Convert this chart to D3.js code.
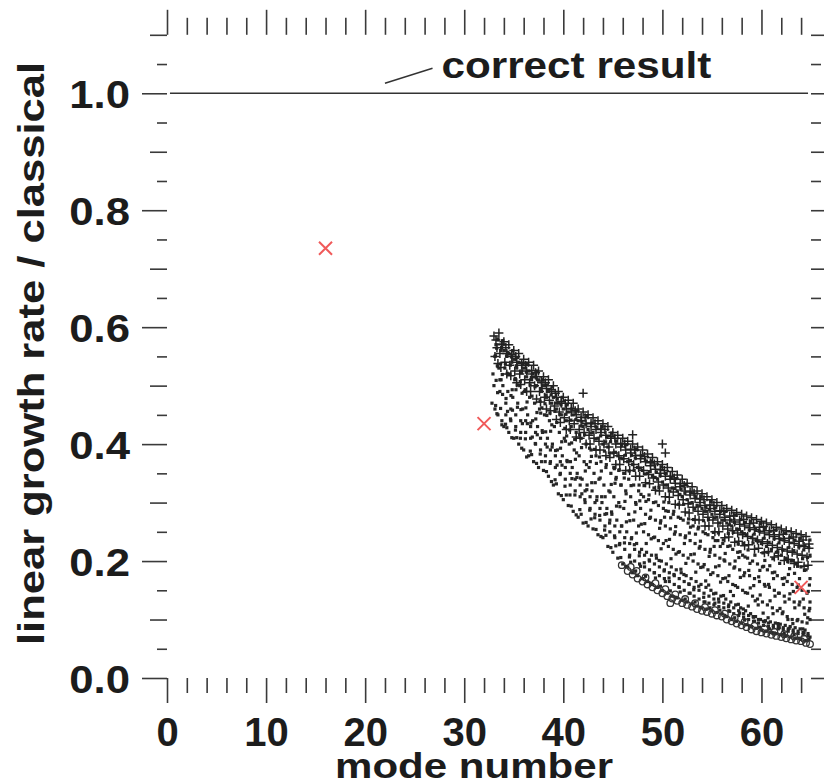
<!DOCTYPE html>
<html><head><meta charset="utf-8">
<script src="https://cdn.jsdelivr.net/npm/d3@7"></script>
<style>body{margin:0;background:#fff}svg{display:block}</style>
</head><body><svg id="c" width="824" height="783"></svg>
<script>
// ---- data ----
const xMajor=[0,10,20,30,40,50,60];
const xMinor=[2,4,6,8,12,14,16,18,22,24,26,28,32,34,36,38,42,44,46,48,52,54,56,58,62,64];
const yMajor=[0,0.2,0.4,0.6,0.8,1.0];
const yMid=[0.1,0.3,0.5,0.7,0.9,1.1];
const yMinor=[0.05,0.15,0.25,0.35,0.45,0.55,0.65,0.75,0.85,0.95,1.05];
const xTickLabels=["0","10","20","30","40","50","60"];
const yTickLabels=["0.0","0.2","0.4","0.6","0.8","1.0"];
const correctValue=1.0;
const annotationText="correct result";
const xTitle="mode number";
const yTitle="linear growth rate / classical";
const redX=[[16,0.735],[32,0.435],[64,0.155]];
const plusPts=[
[33.0,.585],[33.3,.565],[33.1,.55],[33.5,.59],[33.8,.57],[33.6,.555],[34.0,.575],[34.3,.555],[34.1,.54],
[34.5,.57],[34.8,.55],[34.6,.535],[35.0,.56],[35.3,.54],[35.1,.525],[35.5,.555],[35.8,.535],[35.6,.52],
[36.0,.545],[36.3,.525],[36.1,.51],[36.5,.54],[36.8,.52],[36.6,.505],[37.0,.535],[37.3,.515],[37.1,.50],
[37.5,.525],[37.8,.505],[37.6,.49],[38.0,.515],[38.3,.495],[38.1,.48],[38.5,.51],[38.8,.49],[38.6,.475],
[39.0,.50],[39.3,.48],[39.1,.465],[39.5,.49],[39.8,.47],[39.6,.455],[40.0,.48],[40.3,.46],[40.1,.445],
[40.5,.475],[40.8,.455],[40.6,.44],[41.0,.47],[41.3,.45],[41.1,.435],[41.5,.46],[41.8,.44],[41.6,.425],
[42.0,.455],[42.3,.435],[42.1,.42],[42.5,.45],[42.8,.43],[42.6,.415],[43.0,.445],[43.3,.425],[43.1,.41],
[43.5,.44],[43.8,.42],[43.6,.405],[44.0,.435],[44.3,.415],[44.1,.40],[44.5,.43],[44.8,.41],[44.6,.395],
[45.0,.42],[45.3,.40],[45.1,.385],[45.5,.415],[45.8,.395],[45.6,.38],[46.0,.41],[46.3,.39],[46.1,.375],
[46.5,.405],[46.8,.385],[46.6,.37],[47.0,.40],[47.3,.38],[47.1,.365],[47.5,.395],[47.8,.375],[47.6,.36],
[48.0,.39],[48.3,.37],[48.1,.355],[48.5,.383],[48.8,.363],[48.6,.348],[49.0,.377],[49.3,.357],[49.1,.342],
[49.5,.37],[49.8,.35],[49.6,.335],[50.0,.365],[50.3,.345],[50.1,.33],[50.5,.36],[50.8,.34],[50.6,.325],
[51.0,.353],[51.3,.333],[51.1,.318],[51.5,.347],[51.8,.327],[51.6,.312],[52.0,.34],[52.3,.32],[52.1,.305],
[52.5,.333],[52.8,.313],[52.6,.298],[53.0,.327],[53.3,.307],[53.1,.292],[53.5,.32],[53.8,.30],[53.6,.285],
[54.0,.315],[54.3,.295],[54.1,.28],[54.5,.31],[54.8,.29],[54.6,.275],[55.0,.305],[55.3,.285],[55.1,.27],
[55.5,.30],[55.8,.28],[55.6,.265],[56.0,.295],[56.3,.275],[56.1,.26],[56.5,.29],[56.8,.27],[56.6,.255],
[57.0,.287],[57.3,.267],[57.1,.252],[57.5,.283],[57.8,.263],[57.6,.248],[58.0,.28],[58.3,.26],[58.1,.245],
[58.5,.277],[58.8,.257],[58.6,.242],[59.0,.274],[59.3,.254],[59.1,.239],[59.5,.271],[59.8,.251],[59.6,.236],
[60.0,.268],[60.3,.248],[60.1,.233],[60.5,.265],[60.8,.245],[60.6,.23],[61.0,.262],[61.3,.242],[61.1,.227],
[61.5,.258],[61.8,.238],[61.6,.223],[62.0,.255],[62.3,.235],[62.1,.22],[62.5,.252],[62.8,.232],[62.6,.217],
[63.0,.25],[63.3,.23],[63.1,.215],[63.5,.247],[63.8,.227],[63.6,.212],[64.0,.245],[64.3,.225],[64.1,.21],
[64.5,.242],[64.8,.222],[64.6,.207],
[42.0,.487],[47.0,.416],[50.0,.40],[50.3,.385]
];
const plusPtsB=[
[33.2,.578],[33.4,.538],[33.8,.571],[33.7,.531],[34.2,.565],[34.3,.52],[34.8,.553],[34.7,.517],
[35.2,.55],[35.3,.505],[35.8,.538],[35.7,.502],[36.2,.535],[36.3,.49],[36.8,.526],[36.7,.49],
[37.2,.522],[37.3,.477],[37.8,.508],[37.7,.472],[38.2,.505],[38.3,.46],[38.8,.493],[38.7,.457],
[39.2,.487],[39.3,.442],[39.8,.473],[39.7,.437],[40.2,.47],[40.3,.425],[40.8,.461],[40.7,.425],
[41.2,.457],[41.3,.412],[41.8,.446],[41.7,.41],[42.2,.445],[42.3,.40],[42.8,.436],[42.7,.40],
[43.2,.435],[43.3,.39],[43.8,.426],[43.7,.39],[44.2,.425],[44.3,.38],[44.8,.413],[44.7,.377],
[45.2,.41],[45.3,.365],[45.8,.401],[45.7,.365],[46.2,.40],[46.3,.355],[46.8,.391],[46.7,.355],
[47.2,.39],[47.3,.345],[47.8,.381],[47.7,.345],[48.2,.379],[48.3,.334],[48.8,.368],[48.7,.332],
[49.2,.366],[49.3,.321],[49.8,.356],[49.7,.32],[50.2,.355],[50.3,.31],[50.8,.345],[50.7,.309],
[51.2,.342],[51.3,.297],[51.8,.332],[51.7,.296],[52.2,.329],[52.3,.284],[52.8,.318],[52.7,.282],
[53.2,.316],[53.3,.271],[53.8,.306],[53.7,.27],[54.2,.305],[54.3,.26],[54.8,.296],[54.7,.26],
[55.2,.295],[55.3,.25],[55.8,.286],[55.7,.25],[56.2,.285],[56.3,.24],[56.8,.277],[56.7,.241],
[57.2,.277],[57.3,.232],[57.8,.27],[57.7,.234],[58.2,.271],[58.3,.226],[58.8,.264],[58.7,.228],
[59.2,.265],[59.3,.22],[59.8,.258],[59.7,.222],[60.2,.259],[60.3,.214],[60.8,.252],[60.7,.216],
[61.2,.252],[61.3,.207],[61.8,.245],[61.7,.209],[62.2,.246],[62.3,.201],[62.8,.239],[62.7,.203],
[63.2,.241],[63.3,.196],[63.8,.234],[63.7,.198],[64.2,.236],[64.3,.191],[64.8,.229],[64.7,.193]
];
const circlePts=[
[45.9,.193],[46.5,.183],[46.8,.19],[47.0,.177],[47.4,.183],[47.5,.17],[48.0,.165],[48.3,.172],[48.5,.16],
[49.0,.155],[49.3,.162],[49.5,.15],[50.0,.145],[50.3,.152],[50.5,.14],[50.8,.128],[51.0,.136],[51.3,.143],
[51.5,.132],[52.0,.128],[52.3,.135],[52.5,.125],[53.0,.122],[53.3,.128],[53.5,.118],[54.0,.115],[54.3,.121],
[54.5,.113],[55.0,.11],[55.3,.116],[55.5,.107],[56.0,.105],[56.3,.11],[56.5,.10],[57.0,.097],[57.3,.103],
[57.5,.093],[58.0,.09],[58.3,.096],[58.5,.087],[59.0,.083],[59.3,.089],[59.5,.08],[60.0,.078],[60.3,.084],
[60.5,.076],[61.0,.074],[61.3,.079],[61.5,.072],[62.0,.07],[62.3,.075],[62.5,.068],[63.0,.066],[63.3,.071],
[63.5,.064],[64.0,.063],[64.3,.067],[64.5,.06],[64.9,.058]
];
const dotPts=[
[32.8,.47],[32.9,.52],[33.1,.55],[33.0,.50],[33.2,.57],[33.1,.46],
[33.4,.45],[33.6,.49],[33.5,.53],[33.7,.56],[33.4,.58],[33.6,.51],[33.8,.44],
[34.0,.43],[34.2,.47],[33.9,.50],[34.1,.53],[34.3,.55],[34.0,.56],[34.2,.45],
[34.5,.42],[34.7,.46],[34.4,.49],[34.6,.52],[34.8,.54],[34.5,.555],[34.7,.44],
[35.0,.41],[35.2,.45],[34.9,.48],[35.1,.51],[35.3,.53],[35.0,.545],[35.2,.43],
[35.5,.40],[35.7,.44],[35.4,.47],[35.6,.50],[35.8,.525],[35.5,.54],[35.7,.42],
[36.0,.39],[36.2,.42],[35.9,.46],[36.1,.49],[36.3,.515],[36.0,.53],[36.2,.44],
[36.5,.38],[36.7,.41],[36.4,.45],[36.6,.48],[36.8,.51],[36.5,.525],[36.7,.43],
[37.0,.37],[37.2,.40],[36.9,.44],[37.1,.47],[37.3,.50],[37.0,.515],[37.2,.42],
[37.5,.36],[37.7,.39],[37.4,.43],[37.6,.46],[37.8,.49],[37.5,.51],[37.7,.41],
[38.0,.355],[38.2,.38],[37.9,.42],[38.1,.45],[38.3,.48],[38.0,.50],[38.2,.40],
[38.5,.345],[38.7,.37],[38.4,.41],[38.6,.44],[38.8,.47],[38.5,.49],[38.7,.39],
[39.0,.33],[39.2,.36],[38.9,.40],[39.1,.43],[39.3,.46],[39.0,.48],[39.2,.38],
[39.5,.315],[39.7,.35],[39.4,.39],[39.6,.42],[39.8,.45],[39.5,.47],[39.7,.37],
[40.0,.305],[40.2,.34],[39.9,.38],[40.1,.41],[40.3,.44],[40.0,.46],[40.2,.36],
[40.5,.295],[40.7,.33],[40.4,.37],[40.6,.40],[40.8,.43],[40.5,.455],[40.7,.35],
[41.0,.285],[41.2,.32],[40.9,.36],[41.1,.39],[41.3,.42],[41.0,.45],[41.2,.34],
[41.5,.275],[41.7,.31],[41.4,.35],[41.6,.38],[41.8,.41],[41.5,.44],[41.7,.33],
[42.0,.265],[42.2,.30],[41.9,.34],[42.1,.37],[42.3,.40],[42.0,.43],[42.2,.32],
[42.5,.26],[42.7,.29],[42.4,.33],[42.6,.36],[42.8,.39],[42.5,.425],[42.7,.31],
[43.0,.255],[43.2,.28],[42.9,.32],[43.1,.35],[43.3,.38],[43.0,.42],[43.2,.30],
[43.5,.245],[43.7,.27],[43.4,.31],[43.6,.34],[43.8,.37],[43.5,.41],[43.7,.29],
[44.0,.24],[44.2,.26],[43.9,.30],[44.1,.33],[44.3,.36],[44.0,.40],[44.2,.28],
[44.5,.225],[44.7,.25],[44.4,.29],[44.6,.32],[44.8,.35],[44.5,.395],[44.7,.27],
[45.0,.215],[45.2,.24],[44.9,.28],[45.1,.31],[45.3,.34],[45.0,.385],[45.2,.26],[45.1,.36],
[45.5,.205],[45.7,.23],[45.4,.27],[45.6,.30],[45.8,.33],[45.5,.38],[45.7,.25],[45.6,.355],
[46.0,.195],[46.2,.22],[45.9,.26],[46.1,.29],[46.3,.32],[46.0,.375],[46.2,.24],[46.1,.35],
[46.5,.19],[46.7,.21],[46.4,.25],[46.6,.28],[46.8,.31],[46.5,.37],[46.7,.23],[46.6,.34],
[47.0,.18],[47.2,.20],[46.9,.24],[47.1,.27],[47.3,.30],[47.0,.365],[47.2,.22],[47.1,.33],
[47.5,.175],[47.7,.195],[47.4,.23],[47.6,.26],[47.8,.29],[47.5,.36],[47.7,.215],[47.6,.32],
[48.0,.17],[48.2,.19],[47.9,.22],[48.1,.25],[48.3,.28],[48.0,.355],[48.2,.21],[48.1,.31],
[48.5,.165],[48.7,.185],[48.4,.215],[48.6,.245],[48.8,.275],[48.5,.35],[48.7,.20],[48.6,.305],
[49.0,.16],[49.2,.18],[48.9,.21],[49.1,.24],[49.3,.27],[49.0,.345],[49.2,.195],[49.1,.30],
[49.5,.155],[49.7,.175],[49.4,.205],[49.6,.235],[49.8,.265],[49.5,.34],[49.7,.19],[49.6,.295],
[50.0,.15],[50.2,.17],[49.9,.20],[50.1,.23],[50.3,.26],[50.0,.335],[50.2,.185],[50.1,.29],
[50.5,.145],[50.7,.165],[50.4,.195],[50.6,.225],[50.8,.255],[50.5,.33],[50.7,.18],[50.6,.285],
[51.0,.14],[51.2,.16],[50.9,.19],[51.1,.22],[51.3,.25],[51.0,.325],[51.2,.175],[51.1,.28],
[51.5,.137],[51.7,.155],[51.4,.185],[51.6,.215],[51.8,.245],[51.5,.32],[51.7,.17],[51.6,.275],
[52.0,.133],[52.2,.15],[51.9,.18],[52.1,.21],[52.3,.24],[52.0,.31],[52.2,.165],[52.1,.27],
[52.5,.13],[52.7,.145],[52.4,.175],[52.6,.205],[52.8,.235],[52.5,.305],[52.7,.16],[52.6,.265],
[53.0,.127],[53.2,.14],[52.9,.17],[53.1,.20],[53.3,.23],[53.0,.30],[53.2,.155],[53.1,.26],
[53.5,.123],[53.7,.135],[53.4,.165],[53.6,.195],[53.8,.225],[53.5,.295],[53.7,.15],[53.6,.255],
[54.0,.12],[54.2,.13],[53.9,.16],[54.1,.19],[54.3,.22],[54.0,.29],[54.2,.145],[54.1,.25],
[54.5,.118],[54.7,.128],[54.4,.155],[54.6,.185],[54.8,.215],[54.5,.285],[54.7,.14],[54.6,.245],
[55.0,.115],[55.2,.125],[54.9,.15],[55.1,.18],[55.3,.21],[55.0,.28],[55.2,.135],[55.1,.24],
[55.5,.112],[55.7,.122],[55.4,.145],[55.6,.175],[55.8,.205],[55.5,.275],[55.7,.13],[55.6,.235],
[56.0,.11],[56.2,.12],[55.9,.14],[56.1,.17],[56.3,.20],[56.0,.27],[56.2,.128],[56.1,.23],
[56.5,.105],[56.7,.115],[56.4,.135],[56.6,.165],[56.8,.195],[56.5,.265],[56.7,.125],[56.6,.225],
[57.0,.10],[57.2,.11],[56.9,.13],[57.1,.16],[57.3,.19],[57.0,.26],[57.2,.12],[57.1,.22],
[57.5,.097],[57.7,.107],[57.4,.125],[57.6,.155],[57.8,.185],[57.5,.255],[57.7,.115],[57.6,.215],
[58.0,.094],[58.2,.104],[57.9,.12],[58.1,.15],[58.3,.18],[58.0,.25],[58.2,.11],[58.1,.21],
[58.5,.091],[58.7,.10],[58.4,.115],[58.6,.145],[58.8,.175],[58.5,.245],[58.7,.107],[58.6,.205],
[59.0,.088],[59.2,.097],[58.9,.11],[59.1,.14],[59.3,.17],[59.0,.24],[59.2,.104],[59.1,.20],
[59.5,.085],[59.7,.094],[59.4,.105],[59.6,.135],[59.8,.165],[59.5,.235],[59.7,.10],[59.6,.195],
[60.0,.082],[60.2,.09],[59.9,.10],[60.1,.13],[60.3,.16],[60.0,.23],[60.2,.097],[60.1,.19],
[60.5,.08],[60.7,.088],[60.4,.098],[60.6,.125],[60.8,.155],[60.5,.225],[60.7,.094],[60.6,.185],
[61.0,.078],[61.2,.086],[60.9,.096],[61.1,.12],[61.3,.15],[61.0,.22],[61.2,.09],[61.1,.18],
[61.5,.076],[61.7,.084],[61.4,.094],[61.6,.115],[61.8,.145],[61.5,.215],[61.7,.088],[61.6,.175],
[62.0,.074],[62.2,.082],[61.9,.092],[62.1,.11],[62.3,.14],[62.0,.21],[62.2,.086],[62.1,.17],
[62.5,.072],[62.7,.08],[62.4,.09],[62.6,.105],[62.8,.135],[62.5,.205],[62.7,.084],[62.6,.165],
[63.0,.07],[63.2,.078],[62.9,.088],[63.1,.10],[63.3,.13],[63.0,.20],[63.2,.082],[63.1,.16],
[63.5,.068],[63.7,.076],[63.4,.086],[63.6,.098],[63.8,.125],[63.5,.195],[63.7,.08],[63.6,.155],
[64.0,.066],[64.2,.074],[63.9,.084],[64.1,.096],[64.3,.12],[64.0,.19],[64.2,.078],[64.1,.15],
[64.5,.064],[64.7,.072],[64.4,.082],[64.6,.094],[64.8,.115],[64.5,.185],[64.7,.076],[64.6,.145],
[64.9,.07],[64.9,.10],[64.9,.13],[64.9,.17],[64.9,.21]
];
const dotPtsB=[
[33.30,.452],[33.17,.466],[33.37,.488],[33.22,.509],[33.34,.534],[33.15,.551],[33.27,.564],[33.39,.578],
[33.80,.433],[33.67,.461],[33.87,.485],[33.72,.51],[33.84,.519],[33.65,.537],[33.77,.565],[33.89,.577],
[34.30,.428],[34.17,.434],[34.37,.456],[34.22,.478],[34.34,.521],[34.15,.538],[34.27,.551],[34.39,.557],
[34.80,.411],[34.67,.443],[34.87,.458],[34.72,.483],[34.84,.493],[34.65,.535],[34.77,.549],[34.89,.56],
[35.30,.411],[35.17,.424],[35.37,.463],[35.22,.493],[35.34,.501],[35.15,.512],[35.27,.534],[35.39,.548],
[35.80,.393],[35.67,.41],[35.87,.435],[35.72,.459],[35.84,.487],[35.65,.507],[35.77,.522],[35.89,.538],
[36.30,.378],[36.17,.409],[36.37,.435],[36.22,.462],[36.34,.472],[36.15,.493],[36.27,.523],[36.39,.536],
[36.80,.382],[36.67,.388],[36.87,.412],[36.72,.436],[36.84,.482],[36.65,.501],[36.77,.514],[36.89,.521],
[37.30,.367],[37.17,.401],[37.37,.416],[37.22,.443],[37.34,.454],[37.15,.498],[37.27,.513],[37.39,.525],
[37.80,.37],[37.67,.383],[37.87,.423],[37.72,.453],[37.84,.462],[37.65,.473],[37.77,.495],[37.89,.51],
[38.30,.353],[38.17,.37],[38.37,.395],[38.22,.421],[38.34,.449],[38.15,.469],[38.27,.484],[38.39,.501],
[38.80,.336],[38.67,.367],[38.87,.395],[38.72,.422],[38.84,.433],[38.65,.453],[38.77,.484],[38.89,.498],
[39.30,.332],[39.17,.339],[39.37,.364],[39.22,.389],[39.34,.437],[39.15,.456],[39.27,.47],[39.39,.477],
[39.80,.312],[39.67,.348],[39.87,.364],[39.72,.393],[39.84,.404],[39.65,.451],[39.77,.467],[39.89,.48],
[40.30,.313],[40.17,.328],[40.37,.372],[40.22,.405],[40.34,.414],[40.15,.427],[40.27,.451],[40.39,.467],
[40.80,.294],[40.67,.313],[40.87,.341],[40.72,.37],[40.84,.402],[40.65,.424],[40.77,.441],[40.89,.46],
[41.30,.279],[41.17,.313],[41.37,.343],[41.22,.374],[41.34,.385],[41.15,.408],[41.27,.442],[41.39,.457],
[41.80,.28],[41.67,.288],[41.87,.315],[41.72,.342],[41.84,.394],[41.65,.416],[41.77,.431],[41.89,.439],
[42.30,.266],[42.17,.305],[42.37,.322],[42.22,.354],[42.34,.365],[42.15,.416],[42.27,.434],[42.39,.447],
[42.80,.272],[42.67,.287],[42.87,.334],[42.72,.37],[42.84,.379],[42.65,.393],[42.77,.419],[42.89,.436],
[43.30,.254],[43.17,.274],[43.37,.304],[43.22,.334],[43.34,.367],[43.15,.391],[43.27,.409],[43.39,.429],
[43.80,.242],[43.67,.278],[43.87,.31],[43.72,.342],[43.84,.354],[43.65,.378],[43.77,.414],[43.89,.43],
[44.30,.244],[44.17,.253],[44.37,.281],[44.22,.31],[44.34,.365],[44.15,.388],[44.27,.404],[44.39,.413],
[44.80,.223],[44.67,.265],[44.87,.284],[44.72,.318],[44.84,.331],[44.65,.385],[44.77,.404],[44.89,.419],
[45.30,.226],[45.17,.243],[45.37,.294],[45.22,.333],[45.34,.343],[45.15,.358],[45.27,.386],[45.39,.405],
[45.80,.206],[45.67,.228],[45.87,.26],[45.72,.293],[45.84,.33],[45.65,.356],[45.77,.376],[45.89,.398],
[46.30,.191],[46.17,.231],[46.37,.267],[46.22,.302],[46.34,.315],[46.15,.342],[46.27,.381],[46.39,.399],
[46.80,.198],[46.67,.207],[46.87,.238],[46.72,.269],[46.84,.329],[46.65,.354],[46.77,.372],[46.89,.381],
[47.30,.183],[47.17,.228],[47.37,.248],[47.22,.284],[47.34,.297],[47.15,.355],[47.27,.376],[47.39,.391],
[47.80,.191],[47.67,.209],[47.87,.263],[47.72,.303],[47.84,.314],[47.65,.33],[47.77,.359],[47.89,.38],
[48.30,.174],[48.17,.197],[48.37,.23],[48.22,.264],[48.34,.302],[48.15,.329],[48.27,.349],[48.39,.371],
[48.80,.162],[48.67,.202],[48.87,.238],[48.72,.273],[48.84,.287],[48.65,.313],[48.77,.353],[48.89,.371],
[49.30,.171],[49.17,.18],[49.37,.21],[49.22,.241],[49.34,.301],[49.15,.325],[49.27,.343],[49.39,.352],
[49.80,.157],[49.67,.201],[49.87,.221],[49.72,.256],[49.84,.269],[49.65,.326],[49.77,.346],[49.89,.361],
[50.30,.165],[50.17,.183],[50.37,.235],[50.22,.275],[50.34,.286],[50.15,.301],[50.27,.33],[50.39,.35],
[50.80,.149],[50.67,.171],[50.87,.204],[50.72,.237],[50.84,.274],[50.65,.30],[50.77,.32],[50.89,.342],
[51.30,.138],[51.17,.177],[51.37,.212],[51.22,.246],[51.34,.259],[51.15,.285],[51.27,.324],[51.39,.341],
[51.80,.147],[51.67,.156],[51.87,.186],[51.72,.216],[51.84,.273],[51.65,.297],[51.77,.314],[51.89,.323],
[52.30,.135],[52.17,.177],[52.37,.196],[52.22,.23],[52.34,.243],[52.15,.297],[52.27,.316],[52.39,.331],
[52.80,.145],[52.67,.161],[52.87,.211],[52.72,.248],[52.84,.258],[52.65,.272],[52.77,.299],[52.89,.318],
[53.30,.13],[53.17,.151],[53.37,.181],[53.22,.212],[53.34,.246],[53.15,.271],[53.27,.289],[53.39,.31],
[53.80,.121],[53.67,.157],[53.87,.189],[53.72,.222],[53.84,.234],[53.65,.258],[53.77,.294],[53.89,.31],
[54.30,.13],[54.17,.138],[54.37,.166],[54.22,.194],[54.34,.247],[54.15,.269],[54.27,.285],[54.39,.293],
[54.80,.12],[54.67,.159],[54.87,.177],[54.72,.208],[54.84,.22],[54.65,.271],[54.77,.288],[54.89,.302],
[55.30,.128],[55.17,.144],[55.37,.19],[55.22,.225],[55.34,.235],[55.15,.249],[55.27,.274],[55.39,.291],
[55.80,.116],[55.67,.135],[55.87,.164],[55.72,.192],[55.84,.225],[55.65,.248],[55.77,.265],[55.89,.285],
[56.30,.107],[56.17,.141],[56.37,.171],[56.22,.202],[56.34,.213],[56.15,.236],[56.27,.27],[56.39,.285],
[56.80,.114],[56.67,.122],[56.87,.148],[56.72,.175],[56.84,.226],[56.65,.247],[56.77,.262],[56.89,.27],
[57.30,.103],[57.17,.141],[57.37,.158],[57.22,.188],[57.34,.20],[57.15,.249],[57.27,.266],[57.39,.279],
[57.80,.111],[57.67,.126],[57.87,.172],[57.72,.206],[57.84,.216],[57.65,.229],[57.77,.254],[57.89,.271],
[58.30,.099],[58.17,.118],[58.37,.146],[58.22,.175],[58.34,.207],[58.15,.23],[58.27,.247],[58.39,.266],
[58.80,.089],[58.67,.123],[58.87,.154],[58.72,.184],[58.84,.196],[58.65,.219],[58.77,.253],[58.89,.268],
[59.30,.097],[59.17,.105],[59.37,.132],[59.22,.158],[59.34,.21],[59.15,.231],[59.27,.246],[59.39,.254],
[59.80,.087],[59.67,.125],[59.87,.142],[59.72,.173],[59.84,.184],[59.65,.234],[59.77,.251],[59.89,.264],
[60.30,.096],[60.17,.111],[60.37,.157],[60.22,.191],[60.34,.201],[60.15,.214],[60.27,.239],[60.39,.256],
[60.80,.084],[60.67,.103],[60.87,.132],[60.72,.16],[60.84,.192],[60.65,.215],[60.77,.232],[60.89,.251],
[61.30,.077],[61.17,.11],[61.37,.14],[61.22,.17],[61.34,.181],[61.15,.204],[61.27,.238],[61.39,.253],
[61.80,.086],[61.67,.093],[61.87,.119],[61.72,.145],[61.84,.196],[61.65,.216],[61.77,.231],[61.89,.238],
[62.30,.076],[62.17,.113],[62.37,.13],[62.22,.16],[62.34,.171],[62.15,.219],[62.27,.236],[62.39,.248],
[62.80,.085],[62.67,.10],[62.87,.144],[62.72,.177],[62.84,.187],[62.65,.199],[62.77,.223],[62.89,.24],
[63.30,.074],[63.17,.093],[63.37,.12],[63.22,.148],[63.34,.179],[63.15,.201],[63.27,.218],[63.39,.236],
[63.80,.068],[63.67,.10],[63.87,.13],[63.72,.159],[63.84,.17],[63.65,.191],[63.77,.224],[63.89,.239],
[64.30,.077],[64.17,.084],[64.37,.109],[64.22,.135],[64.34,.184],[64.15,.204],[64.27,.219],[64.39,.226],
[64.80,.066],[64.67,.103],[64.87,.119],[64.72,.148],[64.84,.159],[64.65,.206],[64.77,.223],[64.89,.236]
];

// ---- drawing ----
const svg=d3.select("#c");
const FONT="'Liberation Sans', Arial, Helvetica, sans-serif";
const INK="#1c1c1c", TICK="#3a3a3a";
const x=d3.scaleLinear().domain([0,65]).range([167,811]);
const y=d3.scaleLinear().domain([0,1.1]).range([678,34.8]);

function stretch(sel,f){sel.each(function(){const L=this.getComputedTextLength();d3.select(this).attr("textLength",L*f).attr("lengthAdjust","spacingAndGlyphs");});}
function style(g){g.select(".domain").remove();g.selectAll(".tick line").attr("stroke",TICK).attr("stroke-width",1.6);}

// left
const gl=svg.append("g").attr("transform","translate(167,0)");
gl.append("g").call(d3.axisLeft(y).tickValues(yMajor).tickSize(25).tickPadding(12).tickFormat((d,i)=>yTickLabels[i])).call(style)
  .selectAll("text").attr("font-family",FONT).attr("font-weight","bold").attr("font-size",39).attr("fill",INK).attr("dy","0.36em").call(stretch,1.12);
gl.append("g").call(d3.axisLeft(y).tickValues(yMid).tickSize(17).tickFormat("")).call(style);
gl.append("g").call(d3.axisLeft(y).tickValues(yMinor).tickSize(10).tickFormat("")).call(style);
// right
const gr=svg.append("g").attr("transform","translate(811,0)");
gr.append("g").call(d3.axisRight(y).tickValues(yMajor).tickSize(25).tickFormat("")).call(style);
gr.append("g").call(d3.axisRight(y).tickValues(yMid).tickSize(17).tickFormat("")).call(style);
gr.append("g").call(d3.axisRight(y).tickValues(yMinor).tickSize(10).tickFormat("")).call(style);
// bottom
const gb=svg.append("g").attr("transform","translate(0,678)");
gb.append("g").call(d3.axisBottom(x).tickValues(xMajor).tickSize(25).tickPadding(15).tickFormat((d,i)=>xTickLabels[i])).call(style)
  .selectAll("text").attr("font-family",FONT).attr("font-weight","bold").attr("font-size",40).attr("fill",INK);
gb.append("g").call(d3.axisBottom(x).tickValues(xMinor).tickSize(15).tickFormat("")).call(style);
// top
const gt=svg.append("g").attr("transform","translate(0,34.8)");
gt.append("g").call(d3.axisTop(x).tickValues(xMajor).tickSize(25).tickFormat("")).call(style);
gt.append("g").call(d3.axisTop(x).tickValues(xMinor).tickSize(17).tickFormat("")).call(style);

// reference line
svg.append("line").attr("x1",x(0.3)).attr("x2",x(64.7)).attr("y1",y(correctValue)).attr("y2",y(correctValue))
  .attr("stroke","#333").attr("stroke-width",1.6);
// annotation
svg.append("line").attr("x1",x(22.0)).attr("y1",y(correctValue)-10).attr("x2",x(26.8)).attr("y2",y(correctValue)-25)
  .attr("stroke","#333").attr("stroke-width",1.4);
svg.append("text").attr("x",x(27.7)).attr("y",78.3).text(annotationText)
  .attr("font-family",FONT).attr("font-weight","bold").attr("font-size",36).attr("fill",INK)
  .attr("textLength",270).attr("lengthAdjust","spacingAndGlyphs");

// titles
svg.append("text").attr("x",474).attr("y",778).attr("text-anchor","middle").text(xTitle)
  .attr("font-family",FONT).attr("font-weight","bold").attr("font-size",35).attr("fill",INK)
  .attr("textLength",278).attr("lengthAdjust","spacingAndGlyphs");
svg.append("text").attr("transform","translate(44,353.5) rotate(-90)").attr("text-anchor","middle").text(yTitle)
  .attr("font-family",FONT).attr("font-weight","bold").attr("font-size",36).attr("fill",INK)
  .attr("textLength",583).attr("lengthAdjust","spacingAndGlyphs");

// data marks
const pg=svg.append("g");
pg.selectAll("rect.dot").data(dotPts.concat(dotPtsB)).join("rect").attr("class","dot")
  .attr("x",d=>x(d[0])-1.6).attr("y",d=>y(d[1])-1.6).attr("width",3.2).attr("height",3.2).attr("fill","#262626");
pg.selectAll("circle.c").data(circlePts).join("circle").attr("class","c")
  .attr("cx",d=>x(d[0])).attr("cy",d=>y(d[1])).attr("r",3.3).attr("fill","none").attr("stroke","#333").attr("stroke-width",1.3);
pg.selectAll("path.p").data(plusPts.concat(plusPtsB)).join("path").attr("class","p")
  .attr("transform",d=>`translate(${x(d[0])},${y(d[1])})`).attr("d","M-4.5,0H4.5M0,-4.5V4.5")
  .attr("stroke","#222").attr("stroke-width",1.5).attr("fill","none");
pg.selectAll("path.rx").data(redX).join("path").attr("class","rx")
  .attr("transform",d=>`translate(${x(d[0])},${y(d[1])})`).attr("d","M-6.5,-6.5L6.5,6.5M-6.5,6.5L6.5,-6.5")
  .attr("stroke","#f05a5a").attr("stroke-width",2).attr("fill","none");
</script></body></html>
